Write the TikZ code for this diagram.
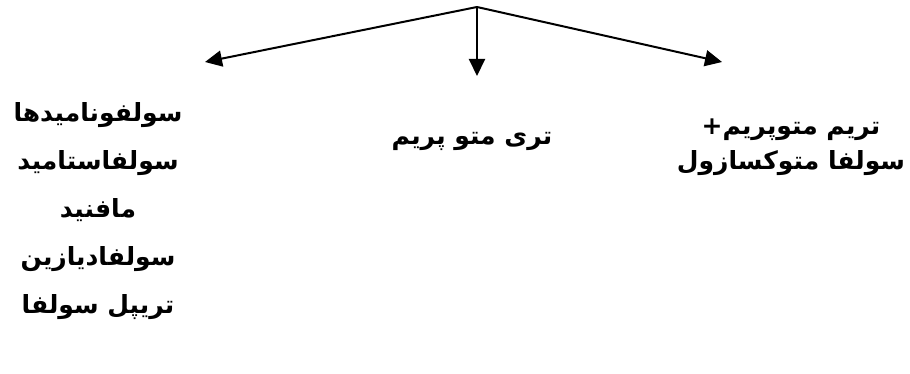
\documentclass[tikz,border=0pt]{standalone}
\usepackage{fontspec}
\newfontfamily\arabicfont[Script=Arabic]{DejaVu Sans}
\TeXXeTstate=1
\usetikzlibrary{arrows.meta}
\tikzset{
  drug/.style={font=\arabicfont\bfseries\fontsize{25}{48}\selectfont, align=center, inner sep=0pt},
  drugtight/.style={drug, font=\arabicfont\bfseries\fontsize{25}{35}\selectfont},
}
\newcommand{\fa}[1]{\beginR #1\endR}

\begin{document}
\begin{tikzpicture}[x=1pt,y=-1pt]
  \useasboundingbox (0,0) rectangle (910,374);
  \coordinate (top) at (477,7);
  \coordinate (l) at (205,62);
  \coordinate (m) at (477,76);
  \coordinate (r) at (722,62);
  \path[-{Triangle[length=17pt,width=16pt]},line width=2pt] (top) edge (l) edge (m) edge (r);
  \node[drug] (sulfa) at (98,211) {\fa{سولفونامیدها}\\ \fa{سولفاستامید}\\ \fa{مافنید}\\ \fa{سولفادیازین}\\ \fa{تریپل سولفا}};
  \node[drug] (tmp) at (472,141) {\fa{تری متو پریم}};
  \node[drugtight] (combo) at (791,147) {\fa{تریم متوپریم+}\\ \fa{سولفا متوکسازول}};
\end{tikzpicture}
\end{document}
